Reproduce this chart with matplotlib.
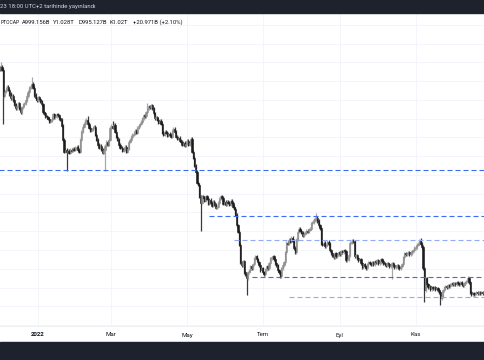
import matplotlib
matplotlib.use('Agg')
import matplotlib.pyplot as plt
import matplotlib.dates as mdates
import matplotlib.transforms as mtransforms
from matplotlib.patches import Rectangle
import numpy as np
import pandas as pd

# ---------------- data (total crypto market cap, billions USD, daily closes) -------------
start_date = '2021-12-01'
first_open = 2656
closes_dec21 = [2640, 2664, 2640, 2432, 2464, 2480, 2504, 2480, 2448, 2416, 2432, 2400, 2368, 2336, 2352, 2376,
                2336, 2304, 2344, 2368, 2376, 2400, 2432, 2464, 2496, 2512, 2528, 2496, 2440, 2416, 2400]
closes_jan22 = [2424, 2408, 2392, 2368, 2304, 2296, 2272, 2264, 2248, 2224, 2232, 2248, 2288, 2264, 2272, 2288,
                2280, 2256, 2240, 2192, 2080, 1984, 2000, 1984, 1992, 1976, 2000, 1992, 2008, 2000, 2016]
closes_feb22 = [2024, 2000, 1984, 2080, 2144, 2184, 2208, 2232, 2240, 2208, 2176, 2152, 2160, 2176, 2184, 2120,
                2080, 2040, 2016, 2032, 2000, 1976, 2000, 2032, 2064, 2040, 2080, 2176]
closes_mar22 = [2192, 2176, 2200, 2144, 2104, 2080, 2040, 2016, 2016, 1992, 2000, 2024, 1984, 2008, 2064, 2080,
                2104, 2120, 2128, 2152, 2136, 2176, 2192, 2208, 2224, 2256, 2280, 2272, 2304, 2336, 2352]
closes_apr22 = [2344, 2360, 2336, 2296, 2256, 2264, 2240, 2216, 2232, 2208, 2136, 2120, 2144, 2136, 2112, 2128,
                2120, 2104, 2152, 2168, 2144, 2104, 2088, 2096, 2072, 2064, 2040, 2056, 2032, 2048]
closes_may22 = [2072, 2040, 2056, 2088, 1984, 1936, 1872, 1824, 1736, 1720, 1624, 1576, 1632, 1616, 1592, 1632,
                1608, 1568, 1600, 1576, 1552, 1584, 1560, 1536, 1544, 1576, 1608, 1632, 1616, 1568, 1584]
closes_jun22 = [1560, 1584, 1576, 1560, 1592, 1576, 1544, 1528, 1480, 1400, 1344, 1240, 1104, 1080, 1112, 1024,
                1008, 976, 1024, 1040, 1072, 1056, 1088, 1136, 1152, 1128, 1104, 1080, 1040, 1056]
closes_jul22 = [1024, 1008, 1048, 1072, 1056, 1096, 1136, 1144, 1152, 1128, 1096, 1080, 1040, 1024, 992, 1056,
                1080, 1104, 1184, 1256, 1248, 1280, 1264, 1296, 1272, 1216, 1184, 1280, 1344, 1368, 1352]
closes_aug22 = [1336, 1312, 1328, 1336, 1352, 1344, 1360, 1368, 1416, 1424, 1440, 1448, 1456, 1432, 1400, 1376,
                1248, 1240, 1256, 1232, 1240, 1264, 1248, 1200, 1176, 1160, 1144, 1176, 1152, 1168, 1184]
closes_sep22 = [1168, 1192, 1184, 1200, 1192, 1120, 1128, 1160, 1256, 1256, 1272, 1264, 1152, 1160, 1136, 1120,
                1128, 1096, 1064, 1088, 1072, 1056, 1088, 1104, 1096, 1088, 1104, 1088, 1112, 1104]
closes_oct22 = [1120, 1096, 1104, 1128, 1112, 1096, 1088, 1080, 1096, 1088, 1072, 1080, 1096, 1080, 1064, 1072,
                1080, 1064, 1056, 1072, 1088, 1144, 1176, 1168, 1176, 1184, 1168, 1176, 1192, 1200, 1216]
closes_nov22 = [1224, 1240, 1248, 1272, 1248, 1224, 1056, 880, 976, 928, 904, 912, 888, 904, 896, 904,
                888, 896, 880, 864, 816, 832, 880, 904, 912, 904, 920, 912, 928, 936]
closes_dec22 = [928, 936, 928, 944, 936, 928, 944, 928, 920, 936, 944, 952, 976, 944, 864, 848,
                856, 848, 856, 864, 856, 864, 856, 864, 856, 864, 864]

# notable wick extremes (billions)
wick_lows = {'2021-12-04': 2216, '2022-01-24': 1840, '2022-02-24': 1840, '2022-05-12': 1360,
             '2022-06-18': 856, '2022-10-13': 984, '2022-11-08': 800, '2022-11-21': 776}
wick_highs = {'2021-12-02': 2688, '2021-12-27': 2568, '2022-02-10': 2264, '2022-03-02': 2216,
              '2022-03-30': 2368, '2022-08-13': 1480, '2022-11-05': 1280, '2022-12-13': 984}

# horizontal support/resistance levels (billions) and the date where each starts
level_values = [1840, 1472, 1280, 984, 824]
level_starts = ['2021-11-25', '2022-05-19', '2022-06-08', '2022-06-22', '2022-07-22']
level_colors = ['#3a6cf6', '#3a6cf6', '#92aaf5', '#3a6cf6', '#92aaf5']

month_labels = ['2022', 'Mar', 'May', 'Tem', 'Eyl', 'Kas', '2023']
month_dates = ['2022-01-01', '2022-03-01', '2022-05-01', '2022-07-01', '2022-09-01', '2022-11-01', '2023-01-01']

legend_parts = ['PTOCAP', 'A999.156B', 'Y1.028T', 'D995.127B', 'K1.02T', '+20.971B (+2.10%)']
header_text = '23 18:00 UTC+2 tarihinde yayınlandı'

# ---------------- build OHLC ----------------
closes = np.array(closes_dec21 + closes_jan22 + closes_feb22 + closes_mar22 + closes_apr22 + closes_may22 +
                  closes_jun22 + closes_jul22 + closes_aug22 + closes_sep22 + closes_oct22 + closes_nov22 +
                  closes_dec22, dtype=float) / 1000.0
dates = pd.date_range(start_date, periods=len(closes), freq='D')
opens = np.r_[first_open / 1000.0, closes[:-1]]
highs = np.maximum(opens, closes)
lows = np.minimum(opens, closes)
idx = {d.strftime('%Y-%m-%d'): i for i, d in enumerate(dates)}
for d, v in wick_lows.items():
    lows[idx[d]] = min(lows[idx[d]], v / 1000.0)
for d, v in wick_highs.items():
    highs[idx[d]] = max(highs[idx[d]], v / 1000.0)

x = mdates.date2num(dates)
up = closes >= opens
cols = np.where(up, '#8e8e8e', '#1c1c1c')
wick_cols = np.where(up, '#a8a8a8', '#3a3a3a')

# ---------------- figure ----------------
W, H = 485, 360
plt.rcParams['font.family'] = ['Roboto', 'DejaVu Sans']
fig = plt.figure(figsize=(W / 100, H / 100), dpi=100)
fig.patch.set_facecolor('white')

def fy(py):
    return 1 - py / H

pane_top, pane_bot = 13, 326
ax = fig.add_axes([0, fy(pane_bot), 1, (pane_bot - pane_top) / H])
ax.set_facecolor('white')
for s in ax.spines.values():
    s.set_visible(False)
ax.set_xticks([])
ax.set_yticks([])

x0 = x[0]
ax.set_xlim(x0 + 0.40, x0 + 390.9)
ax.set_ylim(0.592, 3.096)

# grid
for gv in np.arange(0.60, 3.10, 0.15):
    ax.axhline(gv, color='#f3f5fa', lw=0.7, zorder=0)
md = mdates.date2num(pd.to_datetime(month_dates))
for m in md:
    ax.axvline(m, color='#f3f5fa', lw=0.7, zorder=0)

# candles
ax.vlines(x, lows - 0.012, highs + 0.012, colors=wick_cols, linewidth=0.9, zorder=2)
ax.bar(x, np.abs(closes - opens), bottom=np.minimum(opens, closes), width=0.95,
       color=cols, linewidth=0.4, edgecolor=cols, zorder=2)

# levels
xmax = x0 + 400
for lv, ls, lc in zip(level_values, level_starts, level_colors):
    xs = mdates.date2num(pd.Timestamp(ls))
    ax.plot([xs, xmax], [lv / 1000.0, lv / 1000.0], color=lc, lw=0.8, dashes=[4.5, 2.7], zorder=3)

# time-axis labels
trans = mtransforms.blended_transform_factory(ax.transData, fig.transFigure)
for m, lab in zip(md, month_labels):
    bold = lab.isdigit()
    ax.text(m, fy(335), lab, transform=trans, ha='center', va='center', fontsize=4.4,
            color='#131722', fontweight='bold' if bold else 'normal', clip_on=False)

# separator line under pane
fig.add_artist(plt.Line2D([0, 1], [fy(pane_bot), fy(pane_bot)], color='#eceef3', lw=0.6,
                          transform=fig.transFigure))

# dark bars
fig.add_artist(Rectangle((0, fy(13)), 1, 13 / H, transform=fig.transFigure, color='#1e222d', zorder=5))
fig.add_artist(Rectangle((0, 0), 1, 18 / H, transform=fig.transFigure, color='#1e222d', zorder=5))
fig.text(-0.5 / W, fy(6.5), header_text, ha='left', va='center', fontsize=4.3, color='#d1d4dc', zorder=6)

# legend text
fig.text(0.5 / W, fy(22), legend_parts[0], ha='left', va='center', fontsize=3.6, color='#131722', zorder=6)
legend_x = [22, 53, 79, 110, 133]
for px, t in zip(legend_x, legend_parts[1:]):
    fig.text(px / W, fy(22), t, ha='left', va='center', fontsize=4.2, color='#131722', zorder=6)

fig.savefig('out.png', dpi=100)
